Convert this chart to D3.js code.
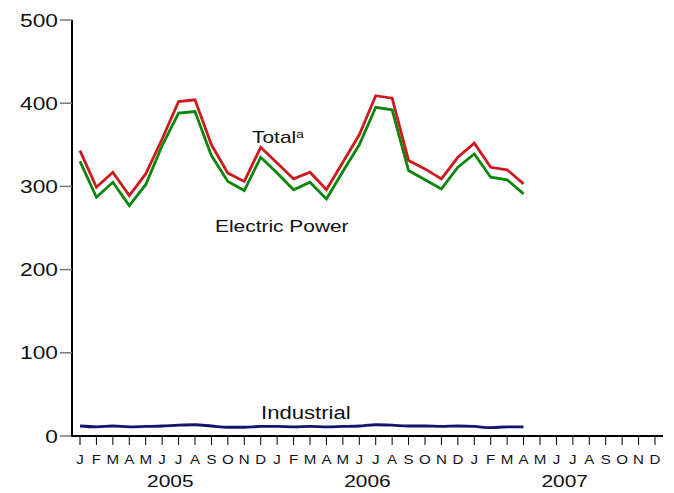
<!DOCTYPE html>
<html>
<head>
<meta charset="utf-8">
<script src="https://cdn.jsdelivr.net/npm/d3@7"></script>
<style>
  html, body { margin: 0; padding: 0; background: #fff; }
  svg text { font-family: "Liberation Sans", Arial, sans-serif; fill: #111; }
</style>
</head>
<body>
<div id="chart"></div>
<script>
// Months Jan 2005 .. Dec 2007 (axis), data runs to Apr 2007
const monthLetters = ["J","F","M","A","M","J","J","A","S","O","N","D"];
const years = ["2005", "2006", "2007"];
const yTicks = [0, 100, 200, 300, 400, 500];

const total = [343, 299, 317, 289, 315, 357, 402, 404, 350, 316, 306, 347,
               328, 309, 317, 296, 329, 362, 409, 406, 331, 321, 309, 335,
               352, 323, 320, 303];
const electricPower = [330, 287, 305, 277, 302, 349, 388, 390, 337, 306, 295, 335,
                       316, 296, 305, 285, 318, 350, 395, 392, 319, 308, 297, 323,
                       339, 311, 308, 291];
const industrial = [12, 11, 12, 11, 11.5, 12, 13, 13.5, 12, 10.5, 10.5, 11.5,
                    11.5, 11, 11.5, 11, 11.5, 12, 13.5, 13, 12, 12, 11.5, 12,
                    11.5, 10, 11, 11];

const width = 674, height = 493;
const stretch = 1.23; // the original text is a bit wider than Arial

const svg = d3.select('#chart').append('svg')
    .attr('width', width)
    .attr('height', height);

const nMonths = monthLetters.length * years.length;

// x: month index -> pixel
const x = d3.scaleLinear()
    .domain([0, nMonths - 1])
    .range([80, 655]);

const y = d3.scaleLinear()
    .domain([0, 500])
    .range([436, 20]);

function place(px, py, sx) {
    return `translate(${px},${py}) scale(${sx},1)`;
}

// Y axis
const yAxis = svg.append('g');
yAxis.append('line')
    .attr('x1', 72).attr('x2', 72)
    .attr('y1', y(500)).attr('y2', y(0) + 1)
    .attr('stroke', '#000').attr('stroke-width', 2);
yAxis.selectAll('.ytick')
    .data(yTicks)
    .enter().append('line')
    .attr('x1', 60).attr('x2', 72)
    .attr('y1', d => y(d)).attr('y2', d => y(d))
    .attr('stroke', '#777').attr('stroke-width', 1.5);
yAxis.selectAll('.ylabel')
    .data(yTicks)
    .enter().append('text')
    .attr('transform', d => place(58, y(d), stretch))
    .attr('dy', '0.36em')
    .attr('text-anchor', 'end')
    .style('font-size', '18.5px')
    .text(d => d);

// X axis
const xAxis = svg.append('g');
xAxis.append('line')
    .attr('x1', 71).attr('x2', 663)
    .attr('y1', y(0)).attr('y2', y(0))
    .attr('stroke', '#000').attr('stroke-width', 2);

const monthIdx = d3.range(nMonths);
xAxis.selectAll('.xtick')
    .data(monthIdx)
    .enter().append('line')
    .attr('x1', d => x(d)).attr('x2', d => x(d))
    .attr('y1', y(0)).attr('y2', y(0) + 9)
    .attr('stroke', '#000').attr('stroke-width', 1);
xAxis.selectAll('.xlabel')
    .data(monthIdx)
    .enter().append('text')
    .attr('transform', d => place(x(d), 464, 1.12))
    .attr('text-anchor', 'middle')
    .style('font-size', '13.5px')
    .text(d => monthLetters[d % 12]);
xAxis.selectAll('.year')
    .data(years)
    .enter().append('text')
    .attr('transform', (d, i) => place(x(i * 12 + 5.5), 487, stretch))
    .attr('text-anchor', 'middle')
    .style('font-size', '17px')
    .text(d => d);

// Lines
const line = d3.line()
    .x((d, i) => x(i))
    .y(d => y(d));

const smoothLine = d3.line()
    .x((d, i) => x(i))
    .y(d => y(d))
    .curve(d3.curveMonotoneX);

svg.append('path')
    .datum(industrial)
    .attr('d', smoothLine)
    .attr('fill', 'none')
    .attr('stroke', '#14146e')
    .attr('stroke-width', 2.8);

svg.append('path')
    .datum(electricPower)
    .attr('d', line)
    .attr('fill', 'none')
    .attr('stroke', '#0a870a')
    .attr('stroke-width', 2.8);

svg.append('path')
    .datum(total)
    .attr('d', line)
    .attr('fill', 'none')
    .attr('stroke', '#cc1a1f')
    .attr('stroke-width', 2.8);

// Series labels
const totalLabel = svg.append('text')
    .attr('transform', place(252, 143, stretch))
    .style('font-size', '17px');
totalLabel.append('tspan').text('Total');
totalLabel.append('tspan')
    .attr('dy', '-0.5em')
    .style('font-size', '11px')
    .text('a');

svg.append('text')
    .attr('transform', place(215, 232, stretch))
    .style('font-size', '17px')
    .text('Electric Power');

svg.append('text')
    .attr('transform', place(261, 419, stretch))
    .style('font-size', '18px')
    .text('Industrial');
</script>
</body>
</html>
